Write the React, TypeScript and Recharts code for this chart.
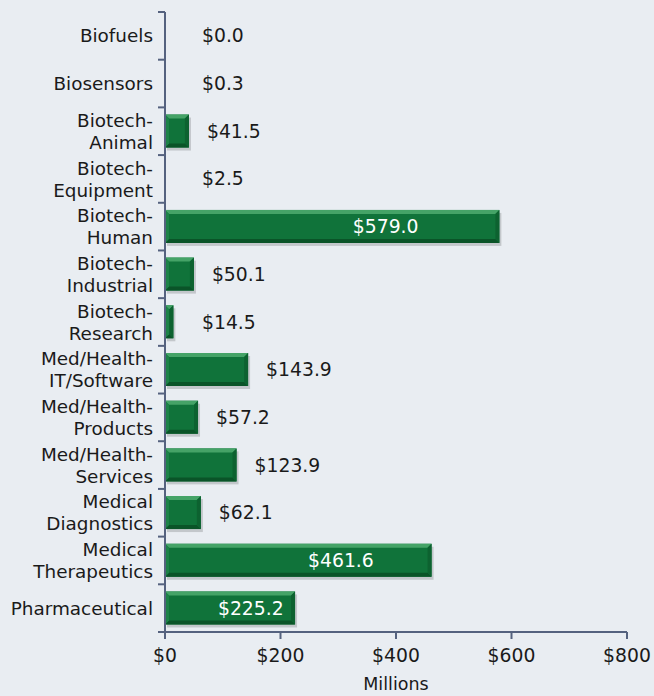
import React from "react";
import { BarChart, Bar, XAxis, YAxis, LabelList, Label } from "recharts";

const categories = [
  "Biofuels",
  "Biosensors",
  "Biotech-Animal",
  "Biotech-Equipment",
  "Biotech-Human",
  "Biotech-Industrial",
  "Biotech-Research",
  "Med/Health-IT/Software",
  "Med/Health-Products",
  "Med/Health-Services",
  "Medical Diagnostics",
  "Medical Therapeutics",
  "Pharmaceutical",
];
const values = [0.0, 0.3, 41.5, 2.5, 579.0, 50.1, 14.5, 143.9, 57.2, 123.9, 62.1, 461.6, 225.2];
const xTicks = [0, 200, 400, 600, 800];
const xAxisTitle = "Millions";

const data = categories.map((c, i) => ({ name: c, value: values[i] }));

const FONT = "'DejaVu Sans', Verdana, sans-serif";
const AXIS = "#55627f";
const TEXT = "#1a1a1a";

function splitLabel(s: string): string[] {
  const h = s.indexOf("-");
  if (h > 0 && h < s.length - 1) return [s.slice(0, h + 1), s.slice(h + 1)];
  const sp = s.indexOf(" ");
  if (sp > 0) return [s.slice(0, sp), s.slice(sp + 1)];
  return [s];
}

const YTick = (props: any) => {
  const { x, y, payload, index } = props;
  const off = payload.offset || 0;
  const axisX = x + 8;
  const lines = splitLabel(String(payload.value));
  const n = lines.length;
  return (
    <g>
      <line x1={axisX - 7} x2={axisX} y1={y - off} y2={y - off} stroke={AXIS} strokeWidth={2} />
      {index === categories.length - 1 && (
        <line x1={axisX - 7} x2={axisX} y1={y + off} y2={y + off} stroke={AXIS} strokeWidth={2} />
      )}
      <text x={axisX - 12} y={y} textAnchor="end" fontFamily={FONT} fontSize={18.4} fill={TEXT}>
        {lines.map((l, i) => (
          <tspan key={i} x={axisX - 12} y={y + (i - (n - 1) / 2) * 22} dy="0.36em">
            {l}
          </tspan>
        ))}
      </text>
    </g>
  );
};

const XTick = (props: any) => {
  const { x, y, payload } = props;
  return (
    <g>
      <line x1={x} x2={x} y1={y - 8} y2={y - 1} stroke={AXIS} strokeWidth={2} />
      <text x={x} y={y + 22} textAnchor="middle" fontFamily={FONT} fontSize={18.8} fill={TEXT}>
        {"$" + payload.value}
      </text>
    </g>
  );
};

const BevelBar = (props: any) => {
  const { x, y, width, height } = props;
  if (!width || width <= 2) return <g />;
  const b = Math.min(4, width / 2, height / 2);
  return (
    <g>
      <rect x={x + 2} y={y + 3} width={width} height={height} fill="rgba(0,0,0,0.16)" />
      <rect x={x} y={y} width={width} height={height} fill="#10733a" />
      <polygon
        points={`${x},${y} ${x + width},${y} ${x + width - b},${y + b} ${x + b},${y + b}`}
        fill="#45a367"
      />
      <polygon
        points={`${x},${y + height} ${x + width},${y + height} ${x + width - b},${y + height - b} ${x + b},${y + height - b}`}
        fill="#0a5428"
      />
      <polygon
        points={`${x + width},${y} ${x + width},${y + height} ${x + width - b},${y + height - b} ${x + width - b},${y + b}`}
        fill="#0d6230"
      />
      <polygon
        points={`${x},${y} ${x},${y + height} ${x + b},${y + height - b} ${x + b},${y + b}`}
        fill="#1d8247"
      />
    </g>
  );
};

const ValueLabel = (props: any) => {
  const { x, y, width, height, value } = props;
  const v = Number(value);
  const txt = "$" + v.toFixed(1);
  const cy = y + height / 2;
  if (v >= 200) {
    return (
      <text x={x + width * 0.66} y={cy} dy="0.36em" textAnchor="middle" fontFamily={FONT} fontSize={18.8} fill="#ffffff">
        {txt}
      </text>
    );
  }
  const sx = Math.max(x + width + 18, x + 37);
  return (
    <text x={sx} y={cy} dy="0.36em" textAnchor="start" fontFamily={FONT} fontSize={18.8} fill={TEXT}>
      {txt}
    </text>
  );
};

export default function App() {
  return (
    <div style={{ position: "absolute", left: 0, top: 0, width: 654, height: 696, background: "#e9edf2" }}>
      <BarChart
        width={654}
        height={696}
        data={data}
        layout="vertical"
        margin={{ top: 12, right: 27, bottom: 0, left: 0 }}
        barCategoryGap="15%"
      >
        <XAxis
          type="number"
          domain={[0, 800]}
          ticks={xTicks}
          height={64}
          axisLine={{ stroke: AXIS, strokeWidth: 2 }}
          tickLine={false}
          tick={<XTick />}
          interval={0}
        >
          <Label
            value={xAxisTitle}
            position="insideBottom"
            offset={6}
            style={{ fontFamily: FONT, fontSize: 17.5, fill: TEXT }}
          />
        </XAxis>
        <YAxis
          type="category"
          dataKey="name"
          width={165}
          axisLine={{ stroke: AXIS, strokeWidth: 2 }}
          tickLine={false}
          tick={<YTick />}
          interval={0}
        />
        <Bar dataKey="value" isAnimationActive={false} shape={<BevelBar />}>
          <LabelList dataKey="value" content={<ValueLabel />} />
        </Bar>
      </BarChart>
    </div>
  );
}
